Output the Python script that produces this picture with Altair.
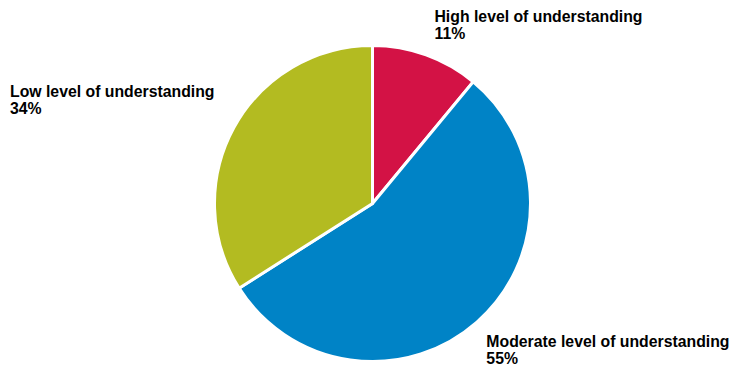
import altair as alt
import pandas as pd

categories = ["High level of understanding", "Moderate level of understanding", "Low level of understanding"]
values = [11, 55, 34]
order = [1, 2, 3]
colors = ["#d31245", "#0083c6", "#b3bb21"]

df = pd.DataFrame({"cat": categories, "value": values, "order": order})

CX, CY = 372.5, 203.5

base = alt.Chart(df)

pie = base.mark_arc(radius=158, stroke="white", strokeWidth=3).encode(
    theta=alt.Theta("value:Q", stack=True, scale=alt.Scale(domain=[0, 100])),
    color=alt.Color("cat:N", scale=alt.Scale(domain=categories, range=colors), legend=None),
    order=alt.Order("order:Q"),
    x=alt.value(CX),
    y=alt.value(CY),
)

offsets = {
    categories[0]: (-0.7, -7.7),
    categories[1]: (-8.5, 4.4),
    categories[2]: (-200.4, -17.6),
}

label_layers = []
for cat in categories:
    dx, dy = offsets[cat]
    lyr = (
        base.transform_window(cum="sum(value)", sort=[alt.SortField("order")], frame=[None, 0])
        .transform_calculate(mid="datum.cum - datum.value / 2",
                             label="datum.cat + '\\n' + datum.value + '%'")
        .transform_filter(alt.datum.cat == cat)
        .mark_text(radius=185, align="left", baseline="alphabetic", dx=dx, dy=dy,
                   font="Liberation Sans", fontWeight="bold", fontSize=15.8,
                   lineBreak="\n", lineHeight=17.5, color="#000000")
        .encode(
            theta=alt.Theta("mid:Q", stack=None, scale=alt.Scale(domain=[0, 100])),
            text="label:N",
            x=alt.value(CX),
            y=alt.value(CY),
        )
    )
    label_layers.append(lyr)

chart = alt.layer(pie, *label_layers).properties(
    width=733, height=371, padding=0, autosize=alt.AutoSizeParams(type="none")
).configure_view(stroke=None)

chart.save("out.html", embed_options={"renderer": "svg", "actions": False})
